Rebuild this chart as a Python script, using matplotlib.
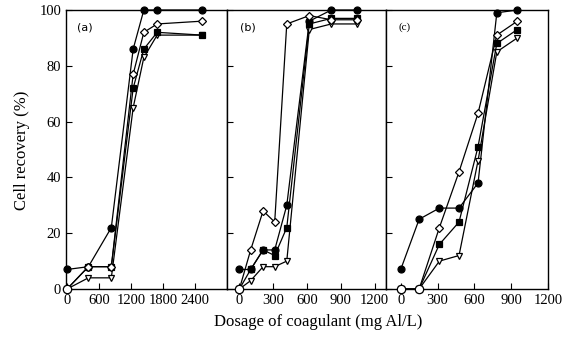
import matplotlib
matplotlib.use('Agg')
import matplotlib.pyplot as plt

plt.rcParams['font.family'] = 'Liberation Serif'

# panel (a)
xa = [0, 400, 830, 1240, 1440, 1690, 2530]
a_circ = [7, 8, 22, 86, 100, 100, 100]
a_diam = [0, 8, 8, 77, 92, 95, 96]
a_sq = [0, 8, 8, 72, 86, 92, 91]
a_tri = [0, 4, 4, 65, 83, 91, 91]

# panel (b)
xb = [0, 100, 210, 313, 420, 620, 815, 1045]
b_circ = [7, 7, 14, 14, 30, 96, 100, 100]
b_diam = [0, 14, 28, 24, 95, 98, 96.5, 96.5]
b_sq = [0, 7, 14, 12, 22, 95, 97, 97]
b_tri = [0, 3, 8, 8, 10, 93, 95, 95]

# panel (c)
xc = [0, 150, 315, 475, 630, 783, 950]
c_circ = [7, 25, 29, 29, 38, 99, 100]
c_diam = [0, 0, 22, 42, 63, 91, 96]
c_sq = [0, 0, 16, 24, 51, 88, 93]
c_tri = [0, 0, 10, 12, 46, 85, 90]

# shared start points (drawn as open circles)
start_a = ([0], [0])
start_b = ([0], [0])
start_c = ([0, 150], [0, 0])

panels = [
    ('(a)', xa, a_circ, a_diam, a_sq, a_tri, start_a, (-20, 3000), [0, 600, 1200, 1800, 2400]),
    ('(b)', xb, b_circ, b_diam, b_sq, b_tri, start_b, (-110, 1300), [0, 300, 600, 900, 1200]),
    ('(c)', xc, c_circ, c_diam, c_sq, c_tri, start_c, (-120, 1200), [0, 300, 600, 900, 1200]),
]

fig = plt.figure(figsize=(5.64, 3.53), dpi=100)
lefts = [66, 227, 386]
rights = [227, 386, 548]

for i, (lab, x, yc, yd, ys, yt, st, xl, xt) in enumerate(panels):
    ax = fig.add_axes([lefts[i] / 564, 1 - 289 / 353,
                       (rights[i] - lefts[i]) / 564, (289 - 10) / 353])
    kw = dict(color='black', lw=0.9, mec='black', mew=0.9, clip_on=False)
    ax.plot(x, yc, marker='o', mfc='black', ms=5, **kw)
    ax.plot(x, yt, marker='v', mfc='white', ms=5, **kw)
    ax.plot(x, ys, marker='s', mfc='black', ms=5, **kw)
    ax.plot(x, yd, marker='D', mfc='white', ms=4.5, **kw)
    ax.plot(st[0], st[1], 'o', ms=6, mfc='white', mec='black', mew=0.9, clip_on=False, zorder=5)

    ax.set_xlim(*xl)
    ax.set_ylim(0, 100)
    ax.set_xticks(xt)
    ax.set_yticks([0, 20, 40, 60, 80, 100])
    ax.tick_params(direction='in', length=4, width=0.8, labelsize=10.5)
    if i > 0:
        ax.set_yticklabels([])
    for sp in ax.spines.values():
        sp.set_linewidth(1.0)
    ax.text(0.07 if i == 0 else 0.08, 0.955, lab, transform=ax.transAxes,
            fontsize=8, va='top', ha='left',
            family='DejaVu Sans' if i < 2 else 'Liberation Serif')

fig.text(318 / 564, 1 - 322 / 353, 'Dosage of coagulant (mg Al/L)',
         ha='center', va='center', fontsize=12)
fig.text(22 / 564, 1 - 150 / 353, 'Cell recovery (%)', rotation=90,
         ha='center', va='center', fontsize=12)

fig.savefig('out.png', dpi=100)
